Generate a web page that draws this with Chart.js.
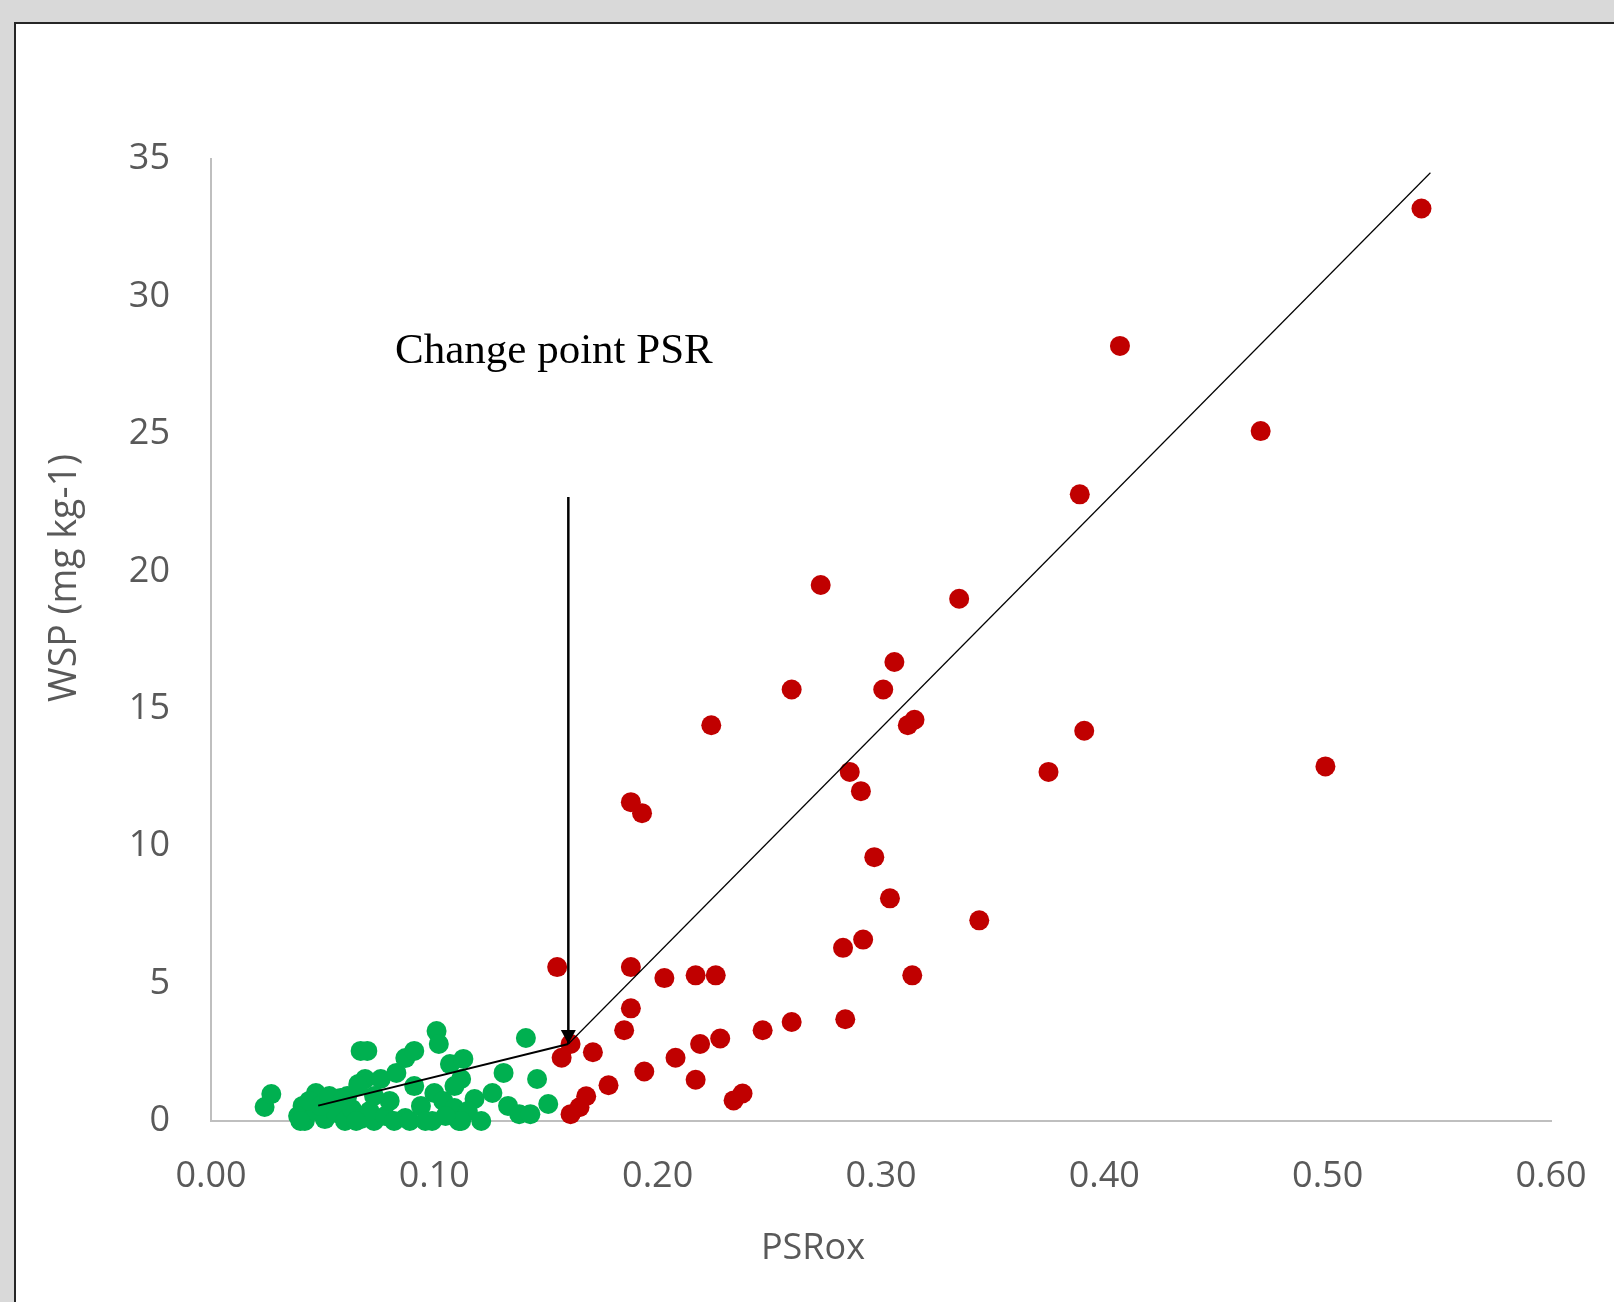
<!DOCTYPE html>
<html>
<head>
<meta charset="utf-8">
<script src="https://cdn.jsdelivr.net/npm/chart.js@4.4.0/dist/chart.umd.min.js"></script>
<style>
  html, body { margin: 0; padding: 0; background: #d9d9d9; overflow: hidden; }
  #frame { position: absolute; left: 14px; top: 22px; width: 1640px; height: 1320px;
           background: #fff; border: 2px solid #262626; }
  #wrap { position: absolute; left: 0; top: 0; width: 1614px; height: 1302px; }
</style>
</head>
<body>
<div id="frame"></div>
<div id="wrap"><canvas id="wspChart" width="1614" height="1302"></canvas></div>
<script>
// ## WSP vs PSRox ##

// points above the change point (red)
const redX = [0.542, 0.407, 0.470, 0.389, 0.273, 0.335, 0.306, 0.260, 0.301, 0.224,
  0.312, 0.315, 0.391, 0.499, 0.286, 0.375, 0.291, 0.188, 0.193, 0.297,
  0.304, 0.344, 0.292, 0.283, 0.155, 0.188, 0.217, 0.226, 0.314, 0.203,
  0.188, 0.284, 0.260, 0.247, 0.185, 0.228, 0.219, 0.161, 0.171, 0.157,
  0.208, 0.194, 0.217, 0.178, 0.238, 0.234, 0.168, 0.165, 0.161];
const redY = [33.2, 28.2, 25.1, 22.8, 19.5, 19.0, 16.7, 15.7, 15.7, 14.4,
  14.4, 14.6, 14.2, 12.9, 12.7, 12.7, 12.0, 11.6, 11.2, 9.6,
  8.1, 7.3, 6.6, 6.3, 5.6, 5.6, 5.3, 5.3, 5.3, 5.2,
  4.1, 3.7, 3.6, 3.3, 3.3, 3.0, 2.8, 2.8, 2.5, 2.3,
  2.3, 1.8, 1.5, 1.3, 1.0, 0.75, 0.9, 0.5, 0.25];

// points below the change point (green)
const greenX = [0.024, 0.027, 0.047, 0.041, 0.039, 0.042, 0.058, 0.066, 0.067, 0.070,
  0.069, 0.076, 0.083, 0.087, 0.091, 0.101, 0.102, 0.107, 0.113, 0.091,
  0.100, 0.104, 0.109, 0.087, 0.099, 0.111, 0.073, 0.141, 0.131, 0.146,
  0.112, 0.126, 0.118, 0.133, 0.138, 0.143, 0.151, 0.115, 0.121, 0.112,
  0.047, 0.051, 0.056, 0.060, 0.063, 0.067, 0.071, 0.078, 0.080, 0.082,
  0.089, 0.094, 0.044, 0.049, 0.053, 0.061, 0.073, 0.065, 0.040, 0.096,
  0.105, 0.059, 0.066, 0.109];
const greenY = [0.51, 0.98, 1.02, 0.55, 0.18, 0, 0.84, 1.35, 2.55, 2.55,
  1.53, 1.53, 1.75, 2.29, 2.55, 3.27, 2.80, 2.07, 2.26, 1.27,
  1.02, 0.73, 0.47, 0.11, 0, 0, 0, 3.02, 1.75, 1.53,
  1.53, 1.02, 0.80, 0.55, 0.25, 0.25, 0.62, 0.36, 0, 0,
  0.36, 0.07, 0.29, 0, 0.44, 0.07, 0.36, 0.18, 0.73, 0,
  0, 0.55, 0.73, 0.55, 0.91, 0.91, 0.91, 0, 0, 0,
  0.18, 0.76, 1.27, 1.27];

// segmented fit and change point arrow
const fitLowX = [0.048, 0.160];
const fitLowY = [0.56, 2.80];
const fitHighX = [0.160, 0.546];
const fitHighY = [2.80, 34.5];
const arrowX = [0.160, 0.160];
const arrowY = [22.7, 2.80];

const noteText = "Change point PSR";
const noteX = 0.0824;
const noteY = 27.57;

const xTitle = "PSRox";
const yTitle = "WSP (mg kg-1)";

const toPoints = (xs, ys) => xs.map((x, i) => ({ x: x, y: ys[i] }));

const tickFont = { family: "'Open Sans', sans-serif", size: 36 };
const tickColor = "#595959";

const decorPlugin = {
  id: "decor",
  afterDatasetsDraw(chart) {
    const ctx = chart.ctx;
    const area = chart.chartArea;
    const xs = chart.scales.x;
    const ys = chart.scales.y;

    // arrow head at end of arrow line
    const meta = chart.getDatasetMeta(2);
    const tip = meta.data[1];
    ctx.save();
    ctx.fillStyle = "#000";
    ctx.beginPath();
    ctx.moveTo(tip.x, tip.y);
    ctx.lineTo(tip.x - 7.5, tip.y - 14);
    ctx.lineTo(tip.x + 7.5, tip.y - 14);
    ctx.closePath();
    ctx.fill();

    // note
    ctx.font = "43px 'Liberation Serif', 'Times New Roman', serif";
    ctx.fillStyle = "#000";
    ctx.textAlign = "left";
    ctx.textBaseline = "alphabetic";
    ctx.fillText(noteText, xs.getPixelForValue(noteX), ys.getPixelForValue(noteY));

    // axis titles
    ctx.font = "36px 'Open Sans', sans-serif";
    ctx.fillStyle = tickColor;
    ctx.textAlign = "center";
    ctx.textBaseline = "middle";
    ctx.fillText(xTitle, area.left + 602, area.bottom + 128);
    ctx.font = "37.5px 'Open Sans', sans-serif";
    ctx.translate(65, area.top + 419);
    ctx.rotate(-Math.PI / 2);
    ctx.fillText(yTitle, 0, 0);
    ctx.restore();
  },
};

const ctx = document.getElementById("wspChart").getContext("2d");

window.wspChart = new Chart(ctx, {
  type: "scatter",
  data: {
    datasets: [
      {
        label: "Fit low",
        data: toPoints(fitLowX, fitLowY),
        showLine: true,
        borderColor: "#000",
        borderWidth: 2,
        pointRadius: 0,
        clip: false,
      },
      {
        label: "Fit high",
        data: toPoints(fitHighX, fitHighY),
        showLine: true,
        borderColor: "#000",
        borderWidth: 1.2,
        pointRadius: 0,
        clip: false,
      },
      {
        label: "Arrow",
        data: toPoints(arrowX, arrowY),
        showLine: true,
        borderColor: "#000",
        borderWidth: 2.5,
        pointRadius: 0,
        clip: false,
      },
      {
        label: "Above",
        data: toPoints(redX, redY),
        backgroundColor: "#c00000",
        borderColor: "#c00000",
        borderWidth: 0,
        pointRadius: 10,
        clip: false,
      },
      {
        label: "Below",
        data: toPoints(greenX, greenY),
        backgroundColor: "#00b050",
        borderColor: "#00b050",
        borderWidth: 0,
        pointRadius: 10,
        clip: false,
      },
    ],
  },
  options: {
    responsive: false,
    animation: false,
    layout: { padding: { left: 0, right: 63, top: 159, bottom: 0 } },
    plugins: {
      legend: { display: false },
      tooltip: { enabled: false },
    },
    scales: {
      x: {
        type: "linear",
        min: 0,
        max: 0.6,
        afterFit: (scale) => {
          scale.height = 181;
          scale.paddingLeft = 0;
          scale.paddingRight = 0;
        },
        ticks: {
          stepSize: 0.1,
          padding: 34,
          font: tickFont,
          color: tickColor,
          maxRotation: 0,
          callback: (v) => v.toFixed(2),
        },
        grid: { display: false, drawTicks: false },
        border: { color: "#bfbfbf", width: 2 },
      },
      y: {
        min: 0,
        max: 35,
        afterFit: (scale) => {
          scale.width = 211;
          scale.paddingTop = 0;
          scale.paddingBottom = 0;
        },
        ticks: {
          stepSize: 5,
          padding: 41,
          font: tickFont,
          color: tickColor,
        },
        grid: { display: false, drawTicks: false },
        border: { color: "#bfbfbf", width: 2 },
      },
    },
  },
  plugins: [decorPlugin],
});
</script>
</body>
</html>
